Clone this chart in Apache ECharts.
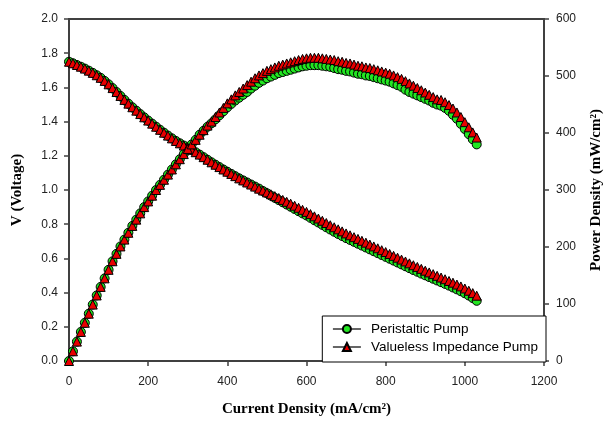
<!DOCTYPE html>
<html>
<head>
<meta charset="utf-8">
<script src="https://cdn.jsdelivr.net/npm/echarts@6/dist/echarts.min.js"></script>
<style>
  html, body { margin: 0; padding: 0; background: #fff; }
  #chart { width: 612px; height: 422px; }
</style>
</head>
<body>
<div id="chart"></div>
<script>
// current density (mA/cm2)
const current = [
  0, 10, 20, 30, 40, 50, 60, 70, 80, 90,
  100, 110, 120, 130, 140, 150, 160, 170, 180, 190,
  200, 210, 220, 230, 240, 250, 260, 270, 280, 290,
  300, 310, 320, 330, 340, 350, 360, 370, 380, 390,
  400, 410, 420, 430, 440, 450, 460, 470, 480, 490,
  500, 510, 520, 530, 540, 550, 560, 570, 580, 590,
  600, 610, 620, 630, 640, 650, 660, 670, 680, 690,
  700, 710, 720, 730, 740, 750, 760, 770, 780, 790,
  800, 810, 820, 830, 840, 850, 860, 870, 880, 890,
  900, 910, 920, 930, 940, 950, 960, 970, 980, 990,
  1000, 1010, 1020, 1030
];

// voltage, valueless impedance pump
const voltValveless = [
  1.750, 1.741, 1.731, 1.721, 1.710, 1.698, 1.685, 1.671, 1.656, 1.638,
  1.618, 1.596, 1.573, 1.550, 1.527, 1.505, 1.484, 1.464, 1.444, 1.425,
  1.406, 1.388, 1.370, 1.352, 1.335, 1.318, 1.302, 1.287, 1.273, 1.260,
  1.248, 1.235, 1.221, 1.207, 1.192, 1.177, 1.162, 1.148, 1.134, 1.120,
  1.107, 1.094, 1.081, 1.068, 1.056, 1.044, 1.032, 1.020, 1.008, 0.997,
  0.986, 0.975, 0.964, 0.953, 0.942, 0.931, 0.920, 0.908, 0.896, 0.884,
  0.872, 0.859, 0.846, 0.833, 0.820, 0.807, 0.794, 0.782, 0.770, 0.758,
  0.746, 0.735, 0.724, 0.714, 0.703, 0.692, 0.681, 0.670, 0.659, 0.648,
  0.637, 0.626, 0.615, 0.604, 0.593, 0.582, 0.571, 0.560, 0.550, 0.539,
  0.528, 0.518, 0.508, 0.498, 0.488, 0.478, 0.468, 0.458, 0.447, 0.436,
  0.424, 0.411, 0.397, 0.382
];

// voltage, peristaltic pump
const voltPeristaltic = [
  1.750, 1.741, 1.731, 1.721, 1.710, 1.698, 1.685, 1.671, 1.656, 1.638,
  1.618, 1.596, 1.573, 1.550, 1.527, 1.505, 1.484, 1.464, 1.444, 1.425,
  1.406, 1.388, 1.370, 1.352, 1.335, 1.318, 1.302, 1.287, 1.273, 1.260,
  1.248, 1.235, 1.221, 1.207, 1.192, 1.177, 1.162, 1.148, 1.134, 1.120,
  1.107, 1.094, 1.081, 1.068, 1.056, 1.044, 1.032, 1.020, 1.008, 0.994,
  0.981, 0.967, 0.954, 0.941, 0.928, 0.915, 0.902, 0.889, 0.876, 0.863,
  0.851, 0.837, 0.823, 0.810, 0.796, 0.782, 0.769, 0.756, 0.743, 0.731,
  0.719, 0.708, 0.697, 0.686, 0.675, 0.664, 0.653, 0.642, 0.631, 0.620,
  0.609, 0.598, 0.587, 0.576, 0.565, 0.554, 0.543, 0.532, 0.522, 0.511,
  0.501, 0.491, 0.481, 0.471, 0.461, 0.451, 0.441, 0.430, 0.419, 0.408,
  0.396, 0.383, 0.368, 0.352
];

// power density (mW/cm2), valueless impedance pump
const powerValveless = [
  0, 17, 34, 51, 67, 83, 99, 115, 130, 145,
  160, 175, 188, 201, 213, 225, 237, 248, 259, 270,
  280, 290, 300, 309, 318, 327, 336, 345, 354, 363,
  372, 380, 388, 397, 405, 413, 420, 428, 436, 444,
  452, 459, 466, 472, 478, 484, 490, 496, 501, 505,
  509, 512, 515, 518, 520, 522, 524, 526, 528, 530,
  531, 532, 532, 532, 531, 530, 529, 528, 526, 525,
  523, 522, 520, 518, 517, 515, 514, 512, 510, 508,
  506, 504, 501, 498, 495, 491, 487, 483, 479, 475,
  471, 467, 463, 459, 458, 454, 449, 443, 436, 428,
  419, 410, 401, 392
];

// power density (mW/cm2), peristaltic pump
const powerPeristaltic = [
  0, 17, 34, 51, 67, 83, 99, 115, 130, 145,
  160, 175, 188, 201, 213, 225, 237, 248, 259, 270,
  280, 290, 300, 309, 318, 327, 336, 345, 354, 363,
  372, 380, 388, 397, 404, 411, 417, 424, 431, 438,
  445, 451, 457, 462, 467, 472, 478, 483, 488, 492,
  496, 499, 502, 505, 507, 509, 511, 513, 515, 517,
  518, 519, 519, 519, 518, 517, 516, 514, 512, 511,
  509, 508, 506, 504, 503, 501, 500, 498, 496, 494,
  492, 490, 487, 484, 481, 476, 472, 469, 466, 463,
  460, 457, 453, 450, 448, 444, 439, 432, 425, 416,
  407, 398, 389, 380
];

const GREEN = '#22e622';
const RED = '#e80000';
const AXIS = '#404040';
const sans = 'Liberation Sans';
const serif = 'Liberation Serif';

const pairs = arr => current.map((c, i) => [c, arr[i]]);

// markers only, the connecting line is hidden under them
const mkSeries = (name, data, yIdx, symbol, color, size) => ({
  name: name,
  type: 'line',
  yAxisIndex: yIdx,
  data: pairs(data),
  symbol: symbol,
  symbolSize: size,
  showAllSymbol: true,
  lineStyle: { color: '#000', width: 0 },
  itemStyle: { color: color, borderColor: '#000', borderWidth: 1 },
  emphasis: { disabled: true }
});

const chart = echarts.init(document.getElementById('chart'));
chart.setOption({
  animation: false,
  backgroundColor: '#fff',
  grid: {
    left: 69, right: 66, top: 19, bottom: 60,
    show: true, borderColor: AXIS, borderWidth: 2
  },
  legend: {
    data: ['Peristaltic Pump', 'Valueless Impedance Pump'],
    orient: 'vertical',
    right: 66,
    bottom: 60,
    backgroundColor: '#fff',
    borderColor: '#000',
    borderWidth: 1,
    padding: [6, 8, 8, 10],
    itemWidth: 28,
    itemHeight: 10,
    itemGap: 4,
    lineStyle: { color: '#000', width: 1.2, opacity: 1 },
    textStyle: { fontFamily: sans, fontSize: 13.5, color: '#000', padding: [0, 0, 0, 5] }
  },
  xAxis: {
    type: 'value',
    min: 0, max: 1200, interval: 200,
    name: 'Current Density (mA/cm²)',
    nameLocation: 'middle',
    nameGap: 41,
    nameTextStyle: { fontFamily: serif, fontWeight: 'bold', fontSize: 15, color: '#000' },
    axisLine: { lineStyle: { color: AXIS, width: 2 } },
    axisTick: { inside: false, length: 5, lineStyle: { color: AXIS, width: 1.5 } },
    axisLabel: { margin: 15, fontFamily: sans, fontSize: 12, color: '#222', formatter: v => String(v) },
    splitLine: { show: false }
  },
  yAxis: [
    {
      type: 'value',
      position: 'left',
      min: 0, max: 2, interval: 0.2,
      name: 'V (Voltage)',
      nameLocation: 'middle',
      nameGap: 44,
      nameTextStyle: { fontFamily: serif, fontWeight: 'bold', fontSize: 15, color: '#000' },
      axisLine: { show: true, lineStyle: { color: AXIS, width: 2 } },
      axisTick: { show: true, length: 5, lineStyle: { color: AXIS, width: 1.5 } },
      axisLabel: { margin: 11, fontFamily: sans, fontSize: 12, color: '#222', formatter: v => v.toFixed(1) },
      splitLine: { show: false }
    },
    {
      type: 'value',
      position: 'right',
      min: 0, max: 600, interval: 100,
      name: 'Power Density (mW/cm²)',
      nameLocation: 'middle',
      nameGap: 45,
      nameRotate: 90,
      nameTextStyle: { fontFamily: serif, fontWeight: 'bold', fontSize: 15, color: '#000' },
      axisLine: { show: true, lineStyle: { color: AXIS, width: 2 } },
      axisTick: { show: true, length: 5, lineStyle: { color: AXIS, width: 1.5 } },
      axisLabel: { margin: 12, fontFamily: sans, fontSize: 12, color: '#222' },
      splitLine: { show: false }
    }
  ],
  series: [
    mkSeries('Peristaltic Pump', voltPeristaltic, 0, 'circle', GREEN, 9),
    mkSeries('Peristaltic Pump', powerPeristaltic, 1, 'circle', GREEN, 9),
    mkSeries('Valueless Impedance Pump', voltValveless, 0, 'triangle', RED, 9),
    mkSeries('Valueless Impedance Pump', powerValveless, 1, 'triangle', RED, 9)
  ]
});
</script>
</body>
</html>
